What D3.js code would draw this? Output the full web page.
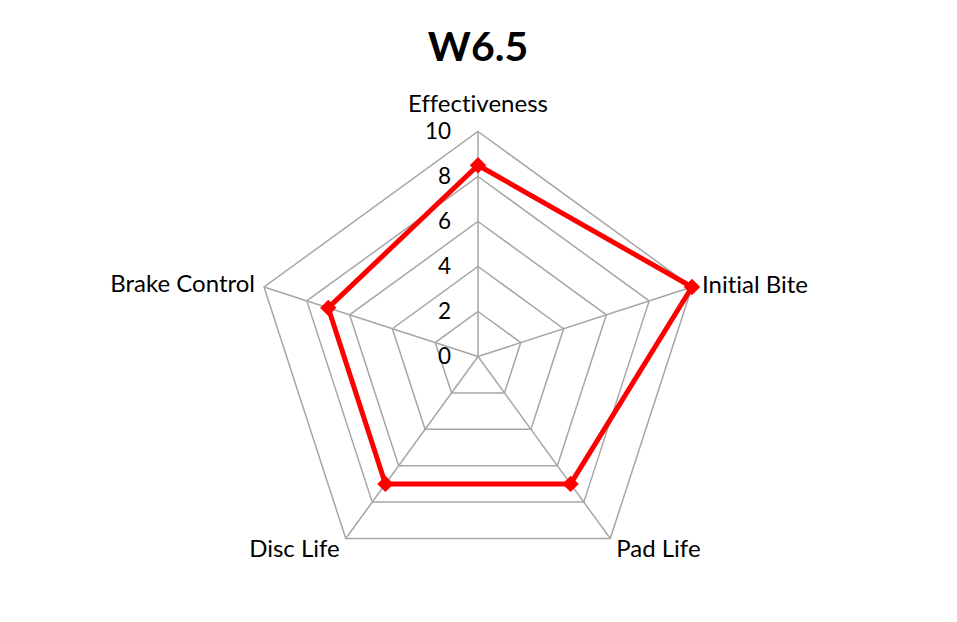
<!DOCTYPE html>
<html><head><meta charset="utf-8">
<script src="https://cdn.jsdelivr.net/npm/d3@7"></script>
<style>body{margin:0;background:#fff}svg{display:block}text{font-family:Lato,"Open Sans",sans-serif;font-variant-ligatures:none}</style>
</head><body><svg id="c" width="957" height="622"></svg>
<script>
const title = "W6.5";
const categories = ["Effectiveness","Initial Bite","Pad Life","Disc Life","Brake Control"];
const values = [8.5, 10, 7, 7, 7];
const ticks = [0,2,4,6,8,10];

const svg = d3.select("#c");
const cx = 478, cy = 356.5, R = 225;
const r = d3.scaleLinear().domain([0,10]).range([0,R]);
const ang = d3.scalePoint().domain(categories.concat(["_"])).range([0, 2*Math.PI]);
const pt = (c, v) => { const a = ang(c); return [cx + r(v)*Math.sin(a), cy - r(v)*Math.cos(a)]; };

svg.append("text").attr("x", cx).attr("y", 61).attr("text-anchor","middle")
  .attr("font-size", 41).attr("font-weight","bold").text(title);

const g = svg.append("g");
ticks.filter(t=>t>0).forEach(t=>{
  g.append("polygon").attr("points", categories.map(c=>pt(c,t).join(",")).join(" "))
   .attr("fill","none").attr("stroke","#a6a6a6").attr("stroke-width",1.5);
});
categories.forEach(c=>{
  const p = pt(c,10);
  g.append("line").attr("x1",cx).attr("y1",cy).attr("x2",p[0]).attr("y2",p[1])
   .attr("stroke","#a6a6a6").attr("stroke-width",1.5);
});
ticks.forEach(t=>{
  g.append("text").attr("x", cx-27).attr("y", cy - r(t)).attr("dy","0.35em")
   .attr("text-anchor","end").attr("font-size",22.5).attr("fill","#000").text(t);
});

const line = d3.line().curve(d3.curveLinearClosed);
svg.append("path").attr("d", line(categories.map((c,i)=>pt(c,values[i]))))
  .attr("fill","none").attr("stroke","#ff0000").attr("stroke-width",5).attr("stroke-linejoin","round");
const sym = d3.symbol().type(d3.symbolDiamond2).size(170);
categories.forEach((c,i)=>{
  const p = pt(c, values[i]);
  svg.append("path").attr("d", sym()).attr("transform",`translate(${p[0]},${p[1]})`).attr("fill","#ff0000");
});

const labelPos = [
  {dx:0, dy:-28, anchor:"middle"},
  {dx:10, dy:-2, anchor:"start"},
  {dx:6, dy:10, anchor:"start"},
  {dx:-6, dy:10, anchor:"end"},
  {dx:-9, dy:-3, anchor:"end"}
];
categories.forEach((c,i)=>{
  const p = pt(c,10), L = labelPos[i];
  svg.append("text").attr("x", p[0]+L.dx).attr("y", p[1]+L.dy).attr("dy","0.35em")
    .attr("text-anchor", L.anchor).attr("font-size",24).text(c);
});
</script></body></html>
